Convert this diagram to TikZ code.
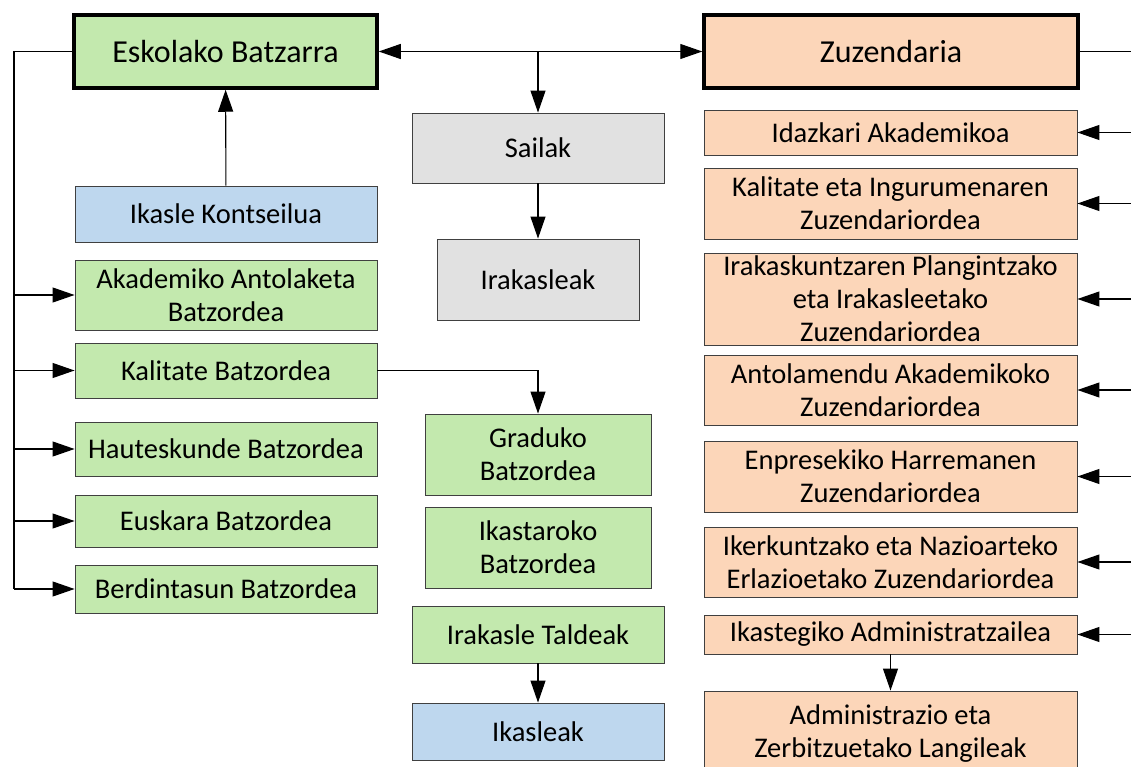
\documentclass[tikz,border=0pt]{standalone}
\usepackage{fontspec}
\setmainfont{Carlito}
\usepackage{xcolor}
\definecolor{boxgreen}{RGB}{195,233,174}
\definecolor{boxorange}{RGB}{252,214,185}
\definecolor{boxblue}{RGB}{190,215,238}
\definecolor{boxgrey}{RGB}{225,225,225}
\usetikzlibrary{positioning,calc,arrows.meta}

\begin{document}
\begin{tikzpicture}[x=1pt, y=-1pt, line width=1.1pt,
		box/.style={draw=black!75, line width=0.9pt, align=center, inner sep=0pt, font=\fontsize{28.5}{33}\selectfont},
		headbox/.style={box, draw=black, line width=3.5pt, font=\fontsize{32}{36}\selectfont},
		lbox/.style={box, fill=boxgreen, minimum width=302pt},
		rbox/.style={box, fill=boxorange, minimum width=373pt},
		>={Triangle[length=22pt, width=15pt]}]
				\useasboundingbox (0,0) rectangle (1131,767);
				\node[headbox, fill=boxgreen, minimum width=303pt, minimum height=73pt] (batzarra) at (225.5,51.5) {Eskolako Batzarra};
				\node[headbox, fill=boxorange, minimum width=374pt, minimum height=73pt] (zuzendaria) at (891,51.5) {Zuzendaria};
				\node[box, fill=boxgrey, minimum width=252pt, minimum height=70pt] (sailak) at (538,148) {Sailak};
				\node[box, fill=boxgrey, minimum width=202pt, minimum height=81pt] (irakasleak) at (538,279.5) {Irakasleak};
				\node[box, fill=boxblue, minimum width=302pt, minimum height=56pt] (kontseilua) at (226,214) {Ikasle Kontseilua};
				\node[lbox, minimum height=70pt] (akademiko) at (226,295) {Akademiko Antolaketa\\Batzordea};
				\node[lbox, minimum height=55pt] (kalitate) at (226,370.5) {Kalitate Batzordea};
				\node[lbox, minimum height=54pt] (hauteskunde) at (226,449) {Hauteskunde Batzordea};
				\node[lbox, minimum height=52pt] (euskara) at (226,521) {Euskara Batzordea};
				\node[lbox, minimum height=48pt] (berdintasun) at (226,589) {Berdintasun Batzordea};
				\node[box, fill=boxgreen, minimum width=226pt, minimum height=81pt] (graduko) at (538,454.5) {Graduko\\Batzordea};
				\node[box, fill=boxgreen, minimum width=226pt, minimum height=81pt] (ikastaroko) at (538,547.5) {Ikastaroko\\Batzordea};
				\node[box, fill=boxgreen, minimum width=252pt, minimum height=57pt] (taldeak) at (538,634.5) {Irakasle Taldeak};
				\node[box, fill=boxblue, minimum width=252pt, minimum height=57pt] (ikasleak) at (538,731.5) {Ikasleak};
				\node[rbox, minimum height=45pt] (idazkari) at (890.5,132.5) {Idazkari Akademikoa};
				\node[rbox, minimum height=71pt] (ingurumen) at (890.5,203.5) {Kalitate eta Ingurumenaren\\Zuzendariordea};
				\node[rbox, minimum height=92pt] (plangintza) at (890.5,299) {Irakaskuntzaren Plangintzako\\eta Irakasleetako\\Zuzendariordea};
				\node[rbox, minimum height=70pt] (antolamendu) at (890.5,390) {Antolamendu Akademikoko\\Zuzendariordea};
				\node[rbox, minimum height=71pt] (enpresa) at (890.5,476.5) {Enpresekiko Harremanen\\Zuzendariordea};
				\node[rbox, minimum height=70pt] (ikerkuntza) at (890.5,562) {Ikerkuntzako eta Nazioarteko\\Erlazioetako Zuzendariordea};
				\node[rbox, minimum height=39pt] (administratzaile) at (890.5,634.5) {Ikastegiko Administratzailea};
				\node[rbox, minimum height=85pt] (langileak) at (890.5,733.5) {Administrazio eta\\Zerbitzuetako Langileak};
				\coordinate (lbus) at (14,51.5);
				\coordinate (lbusend) at (14,589);
				\coordinate (rbus) at (1131,51.5);
				\coordinate (mid) at (538,51.5);
				\draw[<->] (batzarra) -- (zuzendaria);
				\draw[->] (mid) -- (sailak);
				\draw[->] (sailak) -- (irakasleak);
				\draw[->] (kontseilua) -- (batzarra);
				\draw (batzarra) -- (lbus) -- (lbusend);
				\foreach \n in {akademiko,kalitate,hauteskunde,euskara,berdintasun}
					\draw[->] (lbus |- \n.west) -- (\n.west);
				\draw[->] (kalitate.east) -| (graduko.north);
				\draw[->] (taldeak) -- (ikasleak);
				\draw (zuzendaria) -- (rbus);
				\foreach \n in {idazkari,ingurumen,plangintza,antolamendu,enpresa,ikerkuntza,administratzaile}
					\draw[->] (rbus |- \n.east) -- (\n.east);
				\draw[->] (administratzaile) -- (langileak);
			\end{tikzpicture}
\end{document}
